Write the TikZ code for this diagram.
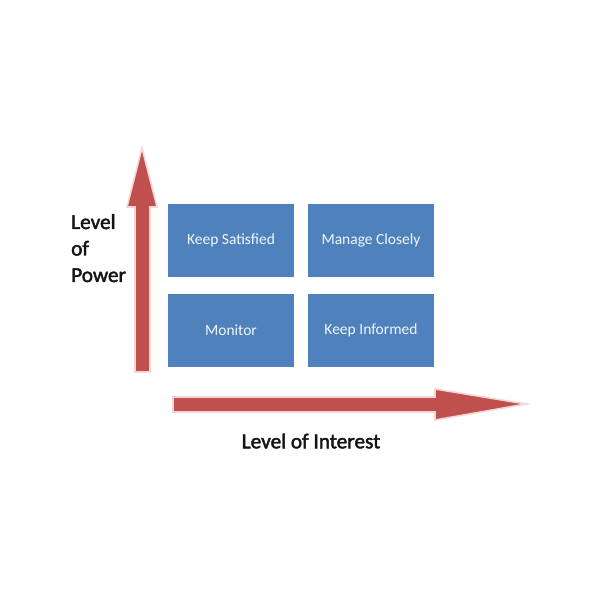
\documentclass[tikz,border=0pt]{standalone}
\usepackage{fontspec}
\setmainfont{Carlito}
\newfontfamily\labelfont{Carlito}[FakeBold=2]
\definecolor{boxblue}{HTML}{4F81BD}
\definecolor{arrred}{HTML}{C0504D}
\definecolor{arredge}{HTML}{F4D6D5}
\definecolor{boxtext}{HTML}{F2F6FB}
\begin{document}
\begin{tikzpicture}[x=1pt,y=-1pt,
  quad/.style={draw=none,fill=boxblue,minimum width=126pt,minimum height=73pt,inner sep=0pt,text=boxtext,font=\fontsize{15.5}{18}\selectfont},
  axislabel/.style={text=black!92,font=\labelfont\fontsize{21.3}{26.5}\selectfont,inner sep=0pt},
  bigarrow/.style={fill=arrred,draw=arredge,line width=1.6pt,line join=miter}]
\useasboundingbox (0,0) rectangle (600,600);
\fill[white] (0,0) rectangle (600,600);
% vertical arrow
\draw[bigarrow] (135,372) -- (135,207) -- (127,207) -- (142,148) -- (157,207) -- (150,207) -- (150,372) -- cycle;
% horizontal arrow
\draw[bigarrow] (173,397) -- (435,397) -- (435,389) -- (526,404) -- (435,420) -- (435,412) -- (173,412) -- cycle;
% quadrants
\node[quad] (ks) at (231,240.5) {Keep Satisfied};
\node[quad] (mc) at (371,240.5) {Manage Closely};
\node[quad] (mo) at (231,330) {Monitor};
\node[quad] (ki) at (371,330) {Keep Informed};
% labels
\node[axislabel,anchor=north west,align=left] (pow) at (71,214) {Level\\of\\Power};
\node[axislabel] (int) at (311,441) {Level of Interest};
\end{tikzpicture}
\end{document}
